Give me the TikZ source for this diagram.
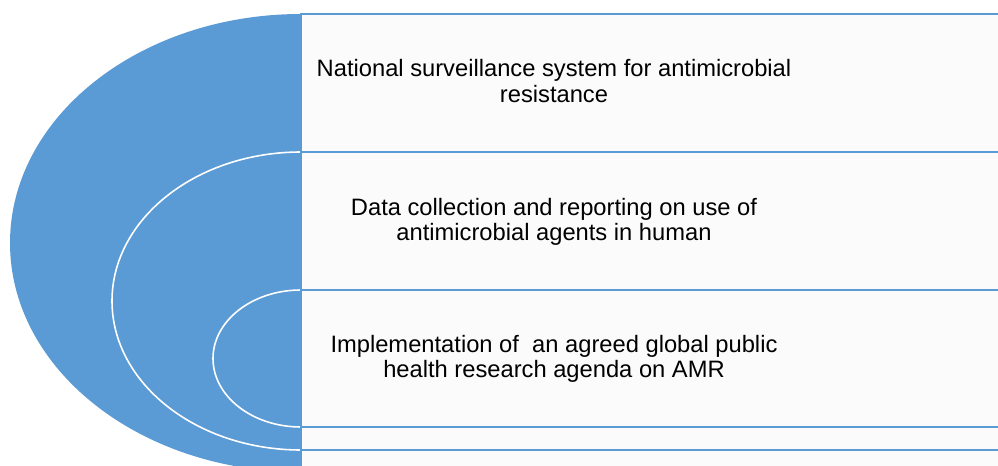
\documentclass[tikz,border=0pt]{standalone}
\usepackage{fontspec}
\usepackage{tikz}
\setmainfont{Liberation Sans}
\definecolor{amrblue}{RGB}{91,155,213}
\definecolor{boxfill}{RGB}{251,251,251}
\tikzset{
  boxline/.style = {draw=amrblue, line width=0.6pt, fill=boxfill},
  ringline/.style = {draw=white, line width=0.9pt},
  tagtext/.style = {align=center, inner sep=0pt, font=\fontsize{13.5}{14.3}\selectfont}
}

\begin{document}
\begin{tikzpicture}[x=0.02cm, y=-0.02cm]
 \useasboundingbox (0,0) rectangle (998,466);
 \clip (0,0) rectangle (998,466);
 % right hand boxes
 \draw[boxline] (301,14) rectangle (1010,472);
 \draw[boxline] (301,152) rectangle (1010,450);
 \draw[boxline] (301,290) rectangle (1010,427);
 % nested half rings
 \fill[amrblue] (301,14) arc[start angle=270, end angle=90, x radius=291, y radius=229] -- cycle;
 \draw[ringline] (301,152) arc[start angle=270, end angle=90, x radius=189, y radius=149];
 \draw[ringline] (301,290) arc[start angle=270, end angle=90, x radius=88, y radius=68.5];
 \draw[amrblue, line width=0.6pt] (301,14) -- (301,472);
  \node[tagtext] (surv) at (554,81) {National surveillance system for antimicrobial\\resistance};
  \node[tagtext] (data) at (554,222) {Data collection and reporting on use of\\antimicrobial agents in human};
  \node[tagtext] (agenda) at (554,359) {Implementation of\ \ an agreed global public\\health research agenda on AMR};
\end{tikzpicture}
\end{document}
